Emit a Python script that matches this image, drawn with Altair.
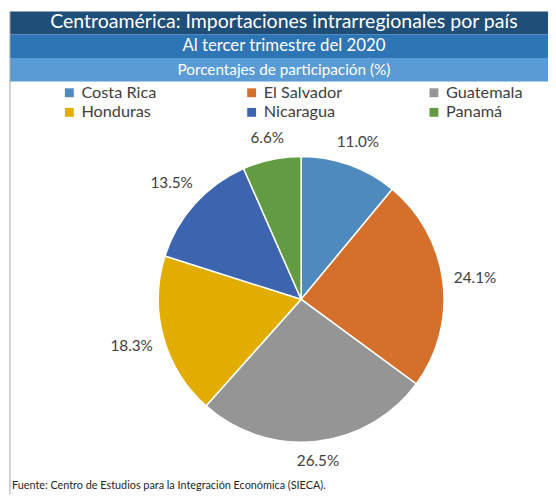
import altair as alt
import pandas as pd

# ---- data ----
paises = ["Costa Rica", "El Salvador", "Guatemala", "Honduras", "Nicaragua", "Panamá"]
porcentajes = [11.0, 24.1, 26.5, 18.3, 13.5, 6.6]
colores = ["#4E8ABE", "#D4702C", "#959595", "#E3AC00", "#3D64AE", "#629B41"]

titulo = "Centroamérica: Importaciones intrarregionales por país"
subtitulo = "Al tercer trimestre del 2020"
subtitulo2 = "Porcentajes de participación (%)"
fuente = "Fuente: Centro de Estudios para la Integración Económica (SIECA)."

FONT = "Lato"
W, H = 548, 490
CX, CY, R = 297.5, 292, 145

df = pd.DataFrame({"pais": paises, "valor": porcentajes, "orden": list(range(len(paises)))})
one = pd.DataFrame({"k": [0]})

color_scale = alt.Scale(domain=paises, range=colores)

pie = alt.Chart(df).mark_arc(outerRadius=R, stroke="white", strokeWidth=1.5).encode(
    theta=alt.Theta("valor:Q", stack=True),
    order=alt.Order("orden:Q"),
    color=alt.Color(
        "pais:N",
        scale=color_scale,
        sort=paises,
        legend=alt.Legend(
            title=None,
            orient="none",
            legendX=54,
            legendY=74,
            direction="horizontal",
            columns=3,
            gridAlign="all",
            columnPadding=84,
            rowPadding=3,
            symbolType="square",
            symbolSize=81,
            symbolStrokeWidth=0,
            labelOffset=4,
            labelFont=FONT,
            labelFontSize=16.5,
            labelColor="#404040",
            padding=0,
        ),
    ),
    x=alt.value(CX),
    y=alt.value(CY),
)

labels = (
    alt.Chart(df)
    .transform_window(cum="sum(valor)", sort=[alt.SortField("orden")])
    .transform_joinaggregate(total="sum(valor)")
    .transform_calculate(
        mid="(datum.cum - datum.valor / 2) / datum.total * 2 * PI",
        lab="format(datum.valor, '.1f') + '%'",
    )
    .transform_calculate(r="155 + 22 * abs(sin(datum.mid)) + 8 * abs(cos(datum.mid))")
    .transform_calculate(
        lx=f"{CX} + datum.r * sin(datum.mid)",
        ly=f"{CY} - datum.r * cos(datum.mid)",
    )
    .mark_text(font=FONT, fontSize=15.5, color="#404040", align="center", baseline="middle")
    .encode(
        x=alt.X("lx:Q", scale=None),
        y=alt.Y("ly:Q", scale=None),
        text="lab:N",
    )
)

def band(y0, y1, fill):
    return alt.Chart(one).mark_rect(color=fill).encode(
        x=alt.value(2), x2=alt.value(W), y=alt.value(y0), y2=alt.value(y1)
    )

def band_text(txt, y, size):
    return alt.Chart(one).mark_text(
        font=FONT, fontSize=size, color="white", align="center", baseline="middle"
    ).encode(x=alt.value(280), y=alt.value(y), text=alt.value(txt))

b1 = band(0, 23, "#1F4E79")
b2 = band(23, 47, "#2E75B6")
b3 = band(47, 71, "#5B9BD5")
t1 = band_text(titulo, 11, 19.8)
t2 = band_text(subtitulo, 35, 17)
t3 = band_text(subtitulo2, 59, 15.5)

border_left = alt.Chart(one).mark_rule(color="#A6A6A6", strokeWidth=1).encode(
    x=alt.value(2), y=alt.value(0), y2=alt.value(H)
)

foot = alt.Chart(one).mark_text(
    font=FONT, fontSize=11, color="#262626", align="left", baseline="middle"
).encode(x=alt.value(4), y=alt.value(482), text=alt.value(fuente))

chart = (
    alt.layer(b1, b2, b3, t1, t2, t3, border_left, pie, labels, foot)
    .properties(width=W, height=H, padding=0, autosize=alt.AutoSizeParams(type="none"))
    .configure_view(stroke=None)
)

chart.save("out.html", embed_options={"renderer": "svg", "actions": False})
